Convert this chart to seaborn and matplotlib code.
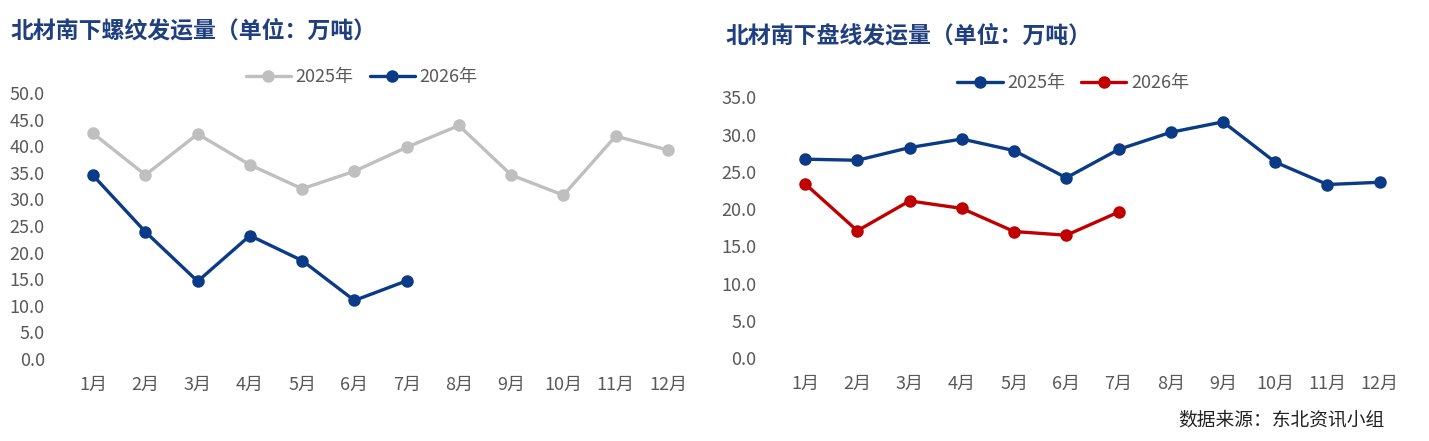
import pandas as pd
import matplotlib.pyplot as plt
import seaborn as sns

months = ['1月', '2月', '3月', '4月', '5月', '6月', '7月', '8月', '9月', '10月', '11月', '12月']

# 螺纹 (rebar)
rebar_2025 = [42.4, 34.6, 42.3, 36.5, 32.0, 35.3, 39.8, 43.9, 34.6, 30.8, 41.9, 39.3]
rebar_2026 = [34.5, 23.9, 14.6, 23.2, 18.5, 11.0, 14.7]

# 盘线 (wire rod)
wire_2025 = [26.7, 26.55, 28.25, 29.4, 27.85, 24.2, 28.0, 30.3, 31.7, 26.3, 23.3, 23.6]
wire_2026 = [23.4, 17.1, 21.1, 20.1, 17.0, 16.5, 19.6]

title_left = '北材南下螺纹发运量（单位：万吨）'
title_right = '北材南下盘线发运量（单位：万吨）'
source = '数据来源：东北资讯小组'

sns.set_theme(style='white')
plt.rcParams['font.family'] = ['Liberation Sans Narrow', 'Noto Sans CJK SC', 'DejaVu Sans']

navy = '#0B3A86'
grey = '#BFBFBF'
red = '#C00000'
tick_col = '#595959'
title_col = '#1F3F7F'


def make_df(a, b):
    rows = []
    for m, v in zip(months, a):
        rows.append((m, v, '2025年'))
    for m, v in zip(months, b):
        rows.append((m, v, '2026年'))
    return pd.DataFrame(rows, columns=['月份', '值', '年份'])


fig = plt.figure(figsize=(14.29, 4.41), dpi=100)
ax1 = fig.add_axes([0.0469, 0.186, 0.4388, 0.603])
ax2 = fig.add_axes([0.5451, 0.1875, 0.4387, 0.592])


def draw(ax, df, palette, ymax, step):
    sns.lineplot(data=df, x='月份', y='值', hue='年份', palette=palette,
                 marker='o', markersize=9, markeredgewidth=0, linewidth=2.4,
                 sort=False, ax=ax, legend=False)
    ax.set_xlim(-0.5, 11.5)
    ax.set_ylim(0, ymax)
    n = int(ymax / step) + 1
    ax.set_yticks([i * step for i in range(n)])
    ax.set_yticklabels([f'{i * step:.1f}' for i in range(n)])
    ax.set_xticks(range(12))
    ax.set_xticklabels(months)
    ax.set_xlabel('')
    ax.set_ylabel('')
    for s in ax.spines.values():
        s.set_visible(False)
    ax.tick_params(axis='both', length=0, labelsize=13, colors=tick_col)
    ax.tick_params(axis='x', pad=12)
    ax.tick_params(axis='y', pad=16)


draw(ax1, make_df(rebar_2025, rebar_2026), {'2025年': grey, '2026年': navy}, 50, 5)
draw(ax2, make_df(wire_2025, wire_2026), {'2025年': navy, '2026年': red}, 35, 5)

for cols, x, y in [((grey, navy), 0.253, 0.825), ((navy, red), 0.751, 0.812)]:
    handles = [plt.Line2D([], [], color=c, lw=2.4, marker='o', markersize=9, markeredgewidth=0)
               for c in cols]
    fig.legend(handles, ['2025年', '2026年'], loc='center', bbox_to_anchor=(x, y),
               ncol=2, frameon=False, fontsize=13, labelcolor=tick_col,
               handlelength=2.5, handletextpad=0.25, columnspacing=0.9)

fig.text(0.007, 0.93, title_left, fontsize=16.5, fontweight='bold', color=title_col,
         family=['Noto Sans CJK SC'], va='center', ha='left')
fig.text(0.508, 0.918, title_right, fontsize=16.5, fontweight='bold', color=title_col,
         family=['Noto Sans CJK SC'], va='center', ha='left')
fig.text(0.969, 0.048, source, fontsize=13.5, color='#222222',
         family=['Noto Sans CJK SC'], va='center', ha='right')

fig.savefig('out.png', dpi=100)
